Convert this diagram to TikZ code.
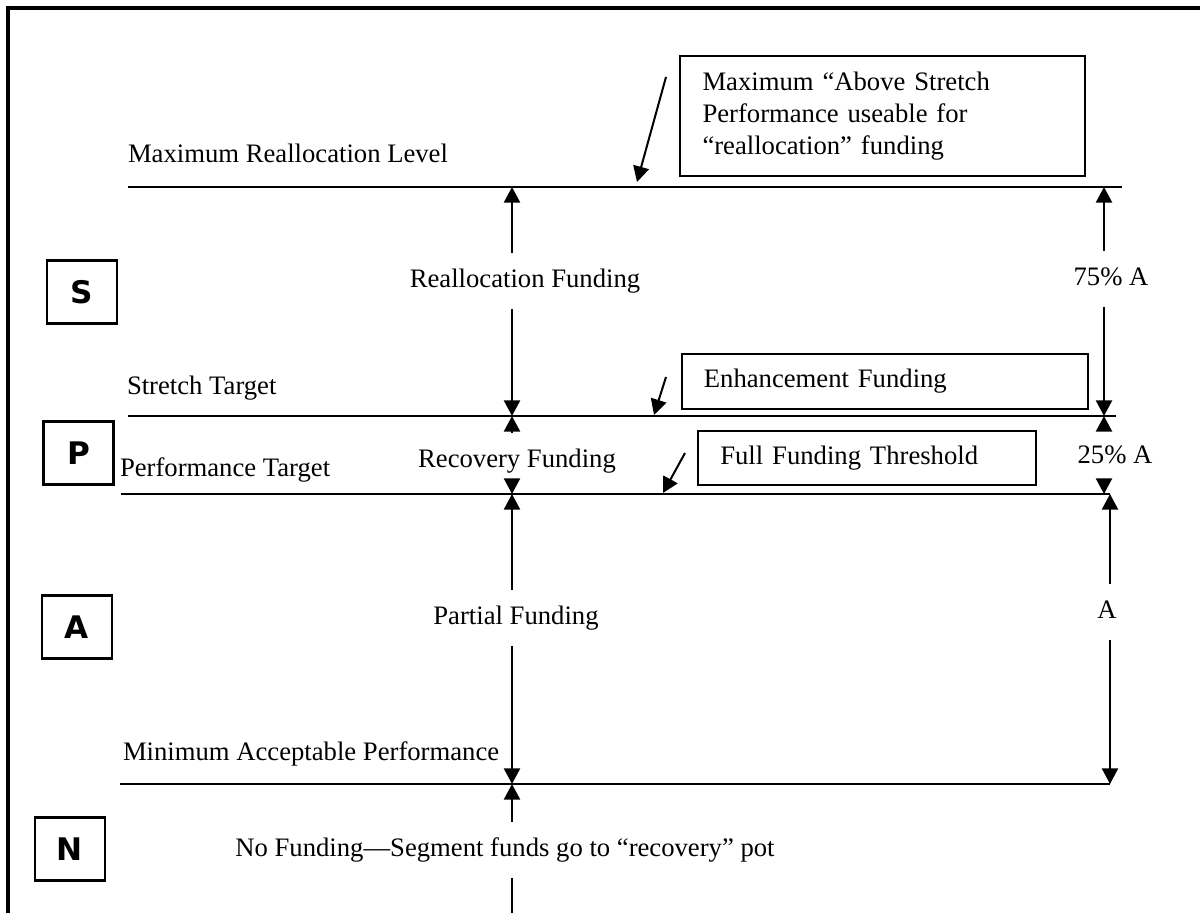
\documentclass[tikz,border=0pt]{standalone}
\usepackage{fontspec}
\setmainfont{Liberation Serif}
\newfontfamily\letterfont{DejaVu Sans}
\usetikzlibrary{arrows.meta}

\tikzset{every picture/.style={line width=0.9pt}}
\tikzset{
  arr/.style={-{Triangle[length=7pt,width=7.2pt]}},
  lvllabel/.style={anchor=base west,inner sep=0pt,font=\fontsize{12}{14}\selectfont},
  fundlabel/.style={inner xsep=0pt,inner ysep=6.6pt,text height=8.5pt,text depth=2.5pt,font=\fontsize{12}{14}\selectfont},
  letterbox/.style={draw,line width=1pt,minimum width=31.5pt,minimum height=28.4pt,inner sep=0pt,font=\letterfont\bfseries\fontsize{14}{16}\selectfont},
  infobox/.style={draw,line width=1pt,align=left,inner xsep=10pt,inner ysep=0pt,font=\fontsize{12}{14.4}\selectfont}
}

\begin{document}
\begin{tikzpicture}[x=0.45pt,y=0.45pt,yscale=-1,xscale=1]
\useasboundingbox (0,0) rectangle (1200,913);

%Frame
\draw [line width=1.4pt] (8,913) -- (8,8) -- (1200,8) ;

%Level lines
\coordinate (maxL) at (128,187) ; \coordinate (maxR) at (1122,187) ;
\coordinate (strL) at (128,416) ; \coordinate (strR) at (1116,416) ;
\coordinate (perL) at (121,494) ; \coordinate (perR) at (1110,494) ;
\coordinate (minL) at (120,784) ; \coordinate (minR) at (1110,784) ;
\draw (maxL) -- (maxR) ;
\draw (strL) -- (strR) ;
\draw (perL) -- (perR) ;
\draw (minL) -- (minR) ;

%Level labels
\node [lvllabel] (maxlvl) at (127,163) {Maximum Reallocation Level};
\node [lvllabel] (strlvl) at (126,395) {Stretch Target};
\node [lvllabel] (perlvl) at (119,477) {Performance Target};
\node [lvllabel] (minlvl) at (122,760) {Minimum Acceptable Performance};

%Letter boxes
\node [letterbox] (boxS) at (82,292) {S};
\node [letterbox] (boxP) at (78.5,453) {P};
\node [letterbox] (boxA) at (77,627) {A};
\node [letterbox] (boxN) at (70,849) {N};

%Text boxes
\node [infobox,text width=162pt,minimum height=54pt] (maxbox) at (882.5,116) {Maximum “Above Stretch\\Performance useable for\\“reallocation” funding};
\node [infobox,text width=163pt,minimum height=24.8pt] (enhbox) at (885,381.5) {Enhancement Funding};
\node [infobox,text width=132pt,minimum height=24.3pt] (fullbox) at (867,458) {Full Funding Threshold};

%Pointers to the lines
\coordinate (maxfrom) at (666,77) ; \coordinate (maxto) at (637,182) ;
\coordinate (enhfrom) at (666,377) ; \coordinate (enhto) at (654,415) ;
\coordinate (fullfrom) at (685,453) ; \coordinate (fullto) at (663,493) ;
\draw [arr] (maxfrom) -- (maxto) ;
\draw [arr] (enhfrom) -- (enhto) ;
\draw [arr] (fullfrom) -- (fullto) ;

%Middle funding bands
\coordinate (mmax) at (512,187) ;
\coordinate (mstr) at (512,416) ;
\coordinate (mper) at (512,494) ;
\coordinate (mmin) at (512,784) ;
\coordinate (mbot) at (512,913) ;
\node [fundlabel] (realloc) at (525,281) {Reallocation Funding};
\node [fundlabel] (recov) at (517,461) {Recovery Funding};
\node [fundlabel] (partial) at (516,618) {Partial Funding};
\node [fundlabel] (nofund) at (505,850) {No Funding—Segment funds go to “recovery” pot};
\draw [arr] (realloc.north -| mmax) -- (mmax) ;
\draw [arr] (realloc.south -| mstr) -- (mstr) ;
\draw [arr] (recov.north -| mstr) -- (mstr) ;
\draw [arr] (recov.south -| mper) -- (mper) ;
\draw [arr] (partial.north -| mper) -- (mper) ;
\draw [arr] (partial.south -| mmin) -- (mmin) ;
\draw [arr] (nofund.north -| mmin) -- (mmin) ;
\draw (nofund.south -| mbot) -- (mbot) ;

%Right side shares
\coordinate (rmax) at (1104,187) ;
\coordinate (rstr) at (1104,416) ;
\coordinate (rper) at (1104,494) ;
\coordinate (aper) at (1110,494) ;
\coordinate (amin) at (1110,784) ;
\node [fundlabel] (pct75) at (1111,279) {75\% A};
\node [fundlabel] (pct25) at (1115,457) {25\% A};
\node [fundlabel] (full) at (1107,612) {A};
\draw [arr] (pct75.north -| rmax) -- (rmax) ;
\draw [arr] (pct75.south -| rstr) -- (rstr) ;
\draw [arr] (pct25.north -| rstr) -- (rstr) ;
\draw [arr] (pct25.south -| rper) -- (rper) ;
\draw [arr] (full.north -| aper) -- (aper) ;
\draw [arr] (full.south -| amin) -- (amin) ;

\end{tikzpicture}
\end{document}
